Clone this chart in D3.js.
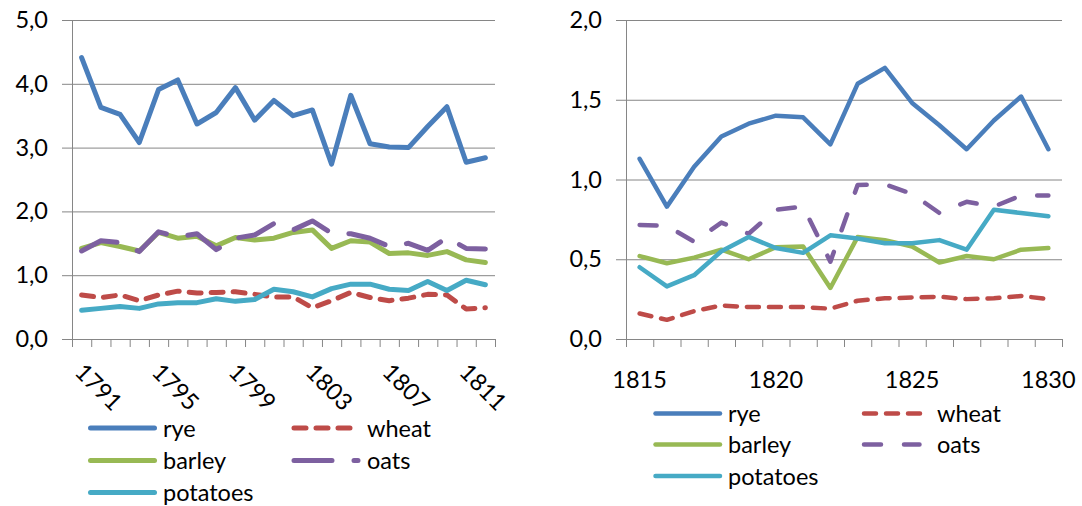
<!DOCTYPE html>
<html>
<head>
<meta charset="utf-8">
<script src="https://cdn.jsdelivr.net/npm/d3@7"></script>
<style>
  body { margin: 0; background: #fff; }
  svg text { font-family: Lato, "Open Sans", sans-serif; font-weight: 400; fill: #000; }
</style>
</head>
<body>
<svg id="vis" width="1082" height="506"></svg>
<script>
// left panel, 1791-1812
const yearsA = d3.range(1791, 1813);
const labelsA = ['1791', '1795', '1799', '1803', '1807', '1811'];
const ryeA      = [4.41, 3.63, 3.52, 3.08, 3.91, 4.06, 3.37, 3.55, 3.94, 3.43, 3.74, 3.50, 3.59, 2.74, 3.82, 3.06, 3.01, 3.00, 3.33, 3.64, 2.77, 2.84];
const wheatA    = [0.69, 0.65, 0.69, 0.60, 0.69, 0.75, 0.72, 0.73, 0.74, 0.70, 0.66, 0.66, 0.49, 0.60, 0.73, 0.65, 0.60, 0.64, 0.70, 0.69, 0.47, 0.49];
const barleyA   = [1.42, 1.51, 1.45, 1.38, 1.67, 1.58, 1.61, 1.46, 1.59, 1.55, 1.58, 1.67, 1.71, 1.42, 1.54, 1.52, 1.34, 1.35, 1.31, 1.37, 1.24, 1.20];
const oatsA     = [1.38, 1.54, 1.51, 1.37, 1.68, 1.60, 1.65, 1.40, 1.58, 1.63, 1.81, 1.71, 1.85, 1.66, 1.65, 1.58, 1.45, 1.50, 1.39, 1.59, 1.42, 1.41];
const potatoesA = [0.45, 0.48, 0.51, 0.48, 0.55, 0.57, 0.57, 0.63, 0.59, 0.62, 0.78, 0.74, 0.66, 0.79, 0.86, 0.86, 0.78, 0.76, 0.90, 0.76, 0.92, 0.85];
const yTicksA = [0, 1, 2, 3, 4, 5];

// right panel, 1815-1830
const yearsB = d3.range(1815, 1831);
const labelsB = ['1815', '1820', '1825', '1830'];
const ryeB      = [1.13, 0.83, 1.08, 1.27, 1.35, 1.40, 1.39, 1.22, 1.60, 1.70, 1.48, 1.34, 1.19, 1.37, 1.52, 1.19];
const wheatB    = [0.16, 0.12, 0.175, 0.21, 0.20, 0.20, 0.20, 0.19, 0.24, 0.255, 0.26, 0.265, 0.25, 0.255, 0.27, 0.25];
const barleyB   = [0.52, 0.475, 0.51, 0.56, 0.50, 0.575, 0.58, 0.32, 0.64, 0.62, 0.58, 0.48, 0.52, 0.50, 0.56, 0.57];
const oatsB     = [0.715, 0.71, 0.61, 0.73, 0.66, 0.81, 0.83, 0.485, 0.965, 0.97, 0.91, 0.79, 0.86, 0.83, 0.90, 0.90];
const potatoesB = [0.45, 0.33, 0.40, 0.55, 0.64, 0.57, 0.54, 0.65, 0.63, 0.60, 0.60, 0.62, 0.56, 0.81, 0.79, 0.77];
const yTicksB = [0, 0.5, 1, 1.5, 2];

const seriesNames = ['rye', 'wheat', 'barley', 'oats', 'potatoes'];
const COLOURS = {rye: '#4a7ebb', wheat: '#be4b48', barley: '#98b954', oats: '#7d60a0', potatoes: '#46aac5'};
const GRID = '#868686';
const FONT_SIZE = '23.5px';

var svg = d3.select('#vis');

function drawPanel(cfg) {
    var g = svg.append('g');
    var n = cfg.years.length;
    var x = d3.scaleLinear().domain([0, n]).range([cfg.left, cfg.right]);
    var y = d3.scaleLinear().domain([0, cfg.yMax]).range([cfg.bottom, cfg.top]);

    // gridlines
    g.append('g').attr('transform', 'translate(' + cfg.left + ',0)')
        .call(d3.axisLeft(y).tickValues(cfg.yTicks.slice(1)).tickSize(-(cfg.right - cfg.left)).tickFormat(''))
        .call(a => a.select('.domain').remove())
        .selectAll('line').attr('stroke', GRID);

    // y axis
    var ya = g.append('g').attr('transform', 'translate(' + cfg.left + ',0)')
        .call(d3.axisLeft(y).tickValues(cfg.yTicks).tickSize(10).tickSizeOuter(0).tickPadding(14)
            .tickFormat(d => d.toFixed(1).replace('.', ',')));
    ya.selectAll('line').attr('stroke', GRID);
    ya.select('.domain').attr('stroke', GRID);
    ya.selectAll('text').style('font-size', FONT_SIZE).attr('fill', '#000');

    // x axis: ticks between categories
    var xa = g.append('g').attr('transform', 'translate(0,' + cfg.bottom + ')')
        .call(d3.axisBottom(x).tickValues(d3.range(n + 1)).tickSize(8).tickSizeOuter(0).tickFormat(''));
    xa.selectAll('line').attr('stroke', GRID);
    xa.select('.domain').attr('stroke', GRID);

    var xc = i => x(i + 0.5);
    var labs = g.append('g').selectAll('text').data(cfg.labels).enter().append('text')
        .style('font-size', FONT_SIZE);
    if (cfg.rotate) {
        labs.attr('text-anchor', 'middle').attr('dominant-baseline', 'central')
            .attr('transform', d => 'translate(' + (xc(cfg.years.indexOf(+d)) + 17.5) + ',386.5) rotate(45)')
            .text(d => d);
    } else {
        labs.attr('text-anchor', 'middle')
            .attr('x', d => xc(cfg.years.indexOf(+d))).attr('y', 388)
            .text(d => d);
    }

    var line = d3.line().x((d, i) => xc(i)).y(d => y(d));
    seriesNames.forEach(function(name) {
        g.append('path').datum(cfg.data[name])
            .attr('d', line).attr('fill', 'none')
            .attr('stroke', COLOURS[name]).attr('stroke-width', cfg.lw)
            .attr('stroke-linejoin', 'round').attr('stroke-linecap', 'round')
            .attr('stroke-dasharray', cfg.dash[name] || null);
    });

    // legend
    var leg = g.append('g');
    cfg.legend.forEach(function(item) {
        leg.append('line').attr('x1', item.x).attr('x2', item.x + item.len).attr('y1', item.y).attr('y2', item.y)
            .attr('stroke', COLOURS[item.name]).attr('stroke-width', cfg.lw)
            .attr('stroke-linecap', 'round').attr('stroke-dasharray', cfg.dash[item.name] || null);
        leg.append('text').attr('x', item.tx).attr('y', item.y + 8.5)
            .style('font-size', FONT_SIZE).text(item.name);
    });
}

drawPanel({
    years: yearsA, labels: labelsA, yTicks: yTicksA, yMax: 5,
    left: 72, right: 495, top: 20, bottom: 339, rotate: true, lw: 5,
    data: {rye: ryeA, wheat: wheatA, barley: barleyA, oats: oatsA, potatoes: potatoesA},
    dash: {wheat: '12,10', oats: '38,22'},
    legend: [
        {name: 'rye', x: 90.5, len: 64, y: 428, tx: 163},
        {name: 'wheat', x: 294, len: 56, y: 428, tx: 367},
        {name: 'barley', x: 90.5, len: 64, y: 460.5, tx: 163},
        {name: 'oats', x: 294, len: 64, y: 460.5, tx: 367},
        {name: 'potatoes', x: 90.5, len: 64, y: 492.5, tx: 163}
    ]
});

drawPanel({
    years: yearsB, labels: labelsB, yTicks: yTicksB, yMax: 2,
    left: 626, right: 1062, top: 20, bottom: 339, rotate: false, lw: 4.5,
    data: {rye: ryeB, wheat: wheatB, barley: barleyB, oats: oatsB, potatoes: potatoesB},
    dash: {wheat: '12,10', oats: '17,23'},
    legend: [
        {name: 'rye', x: 655.5, len: 64.5, y: 413.5, tx: 728},
        {name: 'wheat', x: 864, len: 56.5, y: 413.5, tx: 937},
        {name: 'barley', x: 655.5, len: 64.5, y: 444.5, tx: 728},
        {name: 'oats', x: 864, len: 55.5, y: 444.5, tx: 937},
        {name: 'potatoes', x: 655.5, len: 64.5, y: 476, tx: 728}
    ]
});
</script>
</body>
</html>
